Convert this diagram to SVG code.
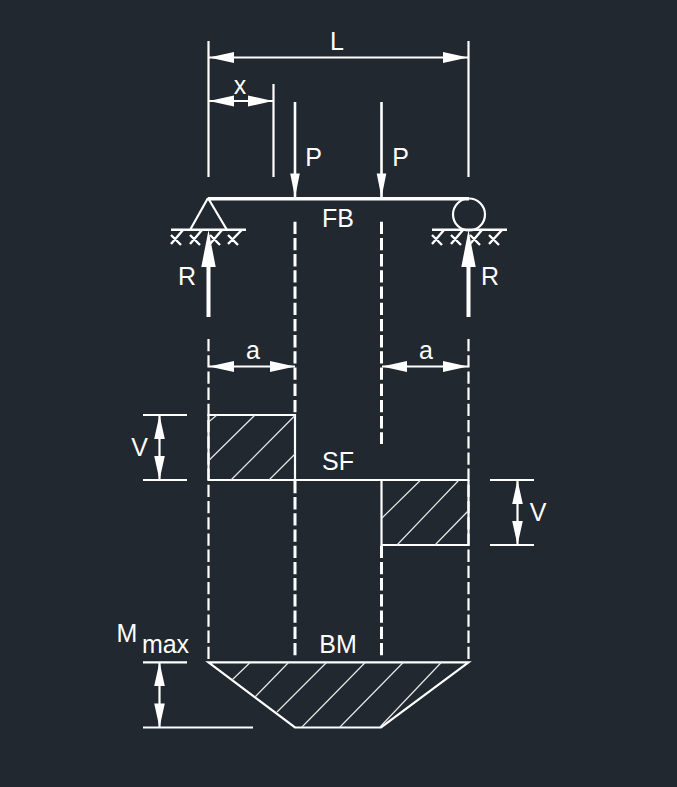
<svg xmlns="http://www.w3.org/2000/svg" width="677" height="787" viewBox="0 0 677 787">
<style>
text{font-family:"Liberation Sans",Arial,sans-serif;font-size:25px;fill:#fff;text-anchor:middle}
.l{fill:none;stroke:#fff;stroke-width:2.200}
.p{fill:none;stroke:#fff;stroke-width:2.600}
.g{fill:none;stroke:#fff;stroke-width:2.500}
.x{fill:none;stroke:#fff;stroke-width:2.400}
.t{fill:none;stroke:#fff;stroke-width:3.500}
.r{fill:none;stroke:#fff;stroke-width:4}
.h{fill:none;stroke:#e8e8e8;stroke-width:1.200}
.d{fill:none;stroke:#fff;stroke-width:3;stroke-dasharray:12.300 3.900}
.e{fill:none;stroke:#fff;stroke-width:2.200;stroke-dasharray:12.300 3.900}
.a{fill:#fff;stroke:none}
</style>
<rect width="677" height="787" fill="#212830"/>
<g id="connectors">
<path class="l" d="M208.500 41V177M468.500 41V177M273.500 84V177"/>
<path class="l" d="M209 57.500H468"/>
<path class="a" d="M209 57.500l25-5.500v11zM468 57.500l-25-5.500v11z"/>
<path class="l" d="M209 101H273"/>
<path class="a" d="M209 101l25-5.500v11zM273 101l-25-5.500v11z"/>
<path class="p" d="M295 102V197M381.500 102V197"/>
<path class="a" d="M295 197.500l-4.800-24h9.600zM381.500 197.500l-4.800-24h9.600z"/>
<path class="t" d="M208 198.700H469"/>
<path class="r" d="M208.500 317V262M468.500 317V262"/>
<path class="a" d="M208.500 230l-7.200 37h14.400zM468.500 230l-7.200 37h14.400z"/>
<path class="d" d="M295 221.700V415M295 480.900V658M381.500 221.700V444M381.500 545.700V658"/>
<path class="e" d="M208.500 339V662M468.500 339V662"/>
<path class="l" d="M209 366.500H295M382 366.500H468"/>
<path class="a" d="M209 366.500l25-5.500v11zM295 366.500l-25-5.500v11zM382 366.500l25-5.500v11zM468 366.500l-25-5.500v11z"/>
<path class="l" d="M143 415H187M143 480H187M490 480H534M490 545H534M143 662.300H187M143 727.500H253"/>
<path class="l" d="M159.500 416V479M517.500 481V544M159.500 663V727"/>
<path class="a" d="M159.500 415l-5.300 24h10.600zM159.500 480l-5.300-24h10.600zM517.500 480l-5.300 24h10.600zM517.500 545l-5.300-24h10.600zM159.500 662l-5.300 24h10.600zM159.500 727.500l-5.300-24h10.600z"/>
</g>
<g id="left-support">
<path class="l" d="M208 198L190 230M208 198L227 230"/>
<path class="g" d="M171 229.800H246"/>
<path class="x" d="M171 244L183 230M171 235L181 245M190 244L202 230M190 235L200 245M210 244L222 230M210 235L220 245M228 244L241.700 230M228 235L238 245"/>
</g>
<g id="right-support">
<circle class="l" cx="469" cy="214.500" r="16"/>
<path class="g" d="M432 229.800H507"/>
<path class="x" d="M432 244L444 230M432 235L442 245M451 244L463 230M451 235L461 245M470 244L482 230M470 235L480 245M489 244L502 230M489 235L499 245"/>
</g>
<g id="sf-diagram">
<path class="l" d="M208.500 480V415H295V480M208.500 480H468.500M381.500 480V545H468.500V480"/>
<path class="h" d="M208.500 460.700L255 415M231 480L295 415.500M269 480L295 454M208.500 422L217 415M382 518L420.700 480M397 545L459 480M435 545L468 511"/>
</g>
<g id="bm-diagram">
<path class="l" d="M208.500 662.300H468.500L381 727.500H295Z"/>
<path class="h" d="M250.700 662L232 680M289 662L255 697M327 662L277 712M365.700 662L302 727M403.700 662L340 727M441.700 662L380 727"/>
</g>
<g id="labels">
<text x="337" y="50">L</text>
<text x="240" y="93.500">x</text>
<text x="313.500" y="165.500">P</text>
<text x="400.500" y="165.500">P</text>
<text x="338" y="227">FB</text>
<text x="187" y="285">R</text>
<text x="490" y="285">R</text>
<text x="253" y="358.500">a</text>
<text x="426" y="358.500">a</text>
<text x="139.500" y="456">V</text>
<text x="538" y="521">V</text>
<text x="338" y="470">SF</text>
<text x="127" y="642">M</text>
<text x="165.500" y="653">max</text>
<text x="338" y="653">BM</text>
</g>
</svg>
